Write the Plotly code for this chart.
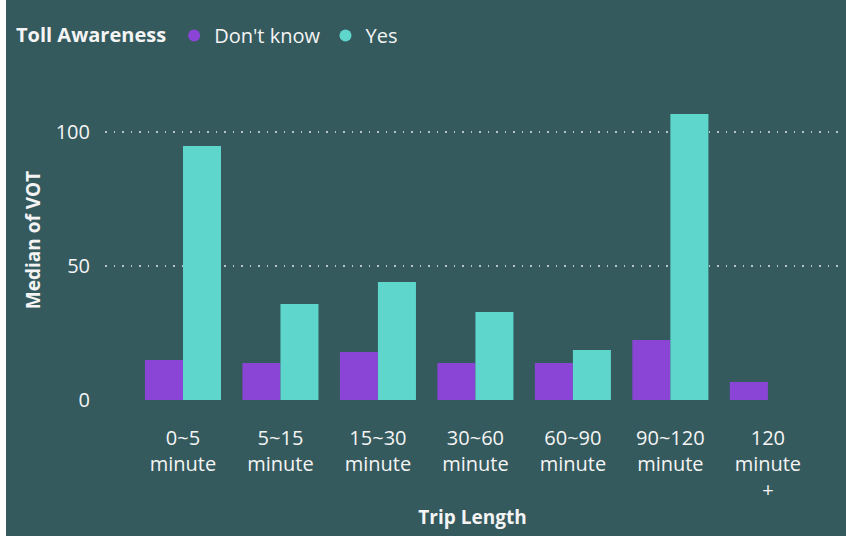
import plotly.graph_objects as go

# Median value of time by trip length, split by toll awareness
trip_lengths = ["0~5<br>minute", "5~15<br>minute", "15~30<br>minute", "30~60<br>minute",
                "60~90<br>minute", "90~120<br>minute", "120<br>minute<br>+"]
dont_know = [14.9, 13.8, 17.9, 13.8, 13.8, 22.4, 6.7]
yes = [94.8, 35.8, 44.0, 32.8, 18.7, 106.7, None]
y_ticks = [0, 50, 100]

BG = "#345a5e"
PURPLE = "#8b45d6"
TEAL = "#5ed6cc"
TEXT = "#f4f4f4"
FONT = "Open Sans, DejaVu Sans, sans-serif"

fig = go.Figure()
fig.add_trace(go.Bar(x=trip_lengths, y=dont_know, name="Don't know",
                     marker=dict(color=PURPLE, line=dict(width=0)), showlegend=False))
fig.add_trace(go.Bar(x=trip_lengths, y=yes, name="Yes",
                     marker=dict(color=TEAL, line=dict(width=0)), showlegend=False))

# Legend entries drawn as round markers
for name, color in [("Don't know", PURPLE), ("Yes", TEAL)]:
    fig.add_trace(go.Scatter(x=[None], y=[None], mode="markers", name=name,
                             marker=dict(color=color, size=12, symbol="circle")))

margin_l = 105
fig.update_layout(
    width=846, height=536,
    margin=dict(l=margin_l, r=6, t=80, b=136),
    paper_bgcolor=BG, plot_bgcolor=BG,
    font=dict(family=FONT, color=TEXT, size=20),
    barmode="group", bargap=0.22, bargroupgap=0,
    legend=dict(orientation="h", x=14 / 846, y=1 - 16 / 536, xref="container", yref="container",
                xanchor="left", yanchor="top",
                title=dict(text="<b>Toll Awareness</b>", font=dict(size=20, color=TEXT)),
                font=dict(size=20, color=TEXT), itemwidth=30,
                bgcolor="rgba(0,0,0,0)", tracegroupgap=0),
    xaxis=dict(type="category", range=[-0.8, 6.74], showgrid=False, zeroline=False,
               showline=False, ticks="", ticklabelstandoff=24,
               tickfont=dict(size=20, color=TEXT),
               title=dict(text="<b>Trip Length</b>", font=dict(size=19, color=TEXT), standoff=8)),
    yaxis=dict(range=[0, 119.4], tickvals=y_ticks, showgrid=True,
               gridcolor="rgba(215,225,225,0.8)", griddash="1.5px,7px", gridwidth=1.5,
               zeroline=False, showline=False, ticks="", ticklabelstandoff=14,
               tickfont=dict(size=20, color=TEXT),
               title=dict(text="<b>Median of VOT</b>", font=dict(size=19, color=TEXT), standoff=10)),
    shapes=[dict(type="rect", xref="paper", yref="paper", xsizemode="pixel",
                 xanchor=0, x0=-margin_l, x1=-margin_l + 6, y0=-1, y1=2,
                 fillcolor="white", line=dict(width=0), layer="above")],
)

fig.write_html("out.html")
